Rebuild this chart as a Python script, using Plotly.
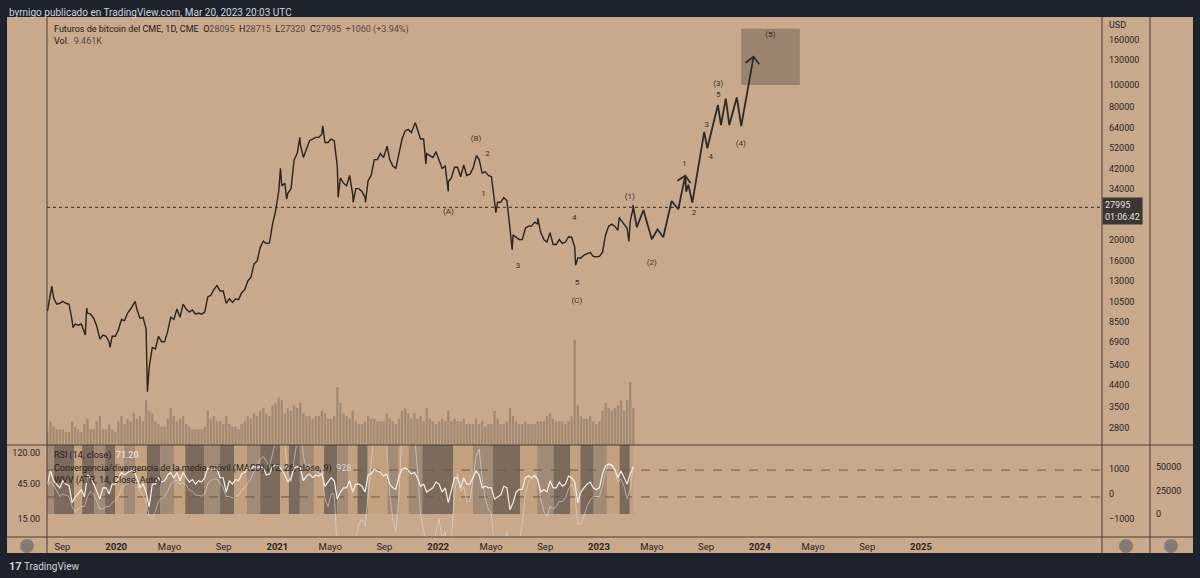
import pandas as pd
import plotly.graph_objects as go

# ---- weekly closes (Mondays) ----
week_start = "2019-07-29"
close_2019 = [9500, 11800, 10900, 10200, 10300, 10500, 10300, 10200, 8600, 8300,
              8200, 8300, 7500, 9300, 9200, 8800, 8100, 7100, 7400, 7300,
              6900, 7300, 7300]
close_2020 = [7800, 8700, 8600, 9300, 9700, 10200, 9700, 8800, 8900, 7900,
              5300, 6500, 6400, 7300, 6900, 6900, 7700, 8900, 8700, 9700,
              8900, 10200, 9700, 9400, 9600, 9200, 9300, 9200, 9400, 11000,
              11200, 11900, 12300, 11700, 11700, 10300, 10800, 10400, 10800, 10700,
              11500, 11900, 13000, 13500, 15500, 16000, 18400, 19700, 19200, 19300,
              23500, 27000]
close_2021 = [33000, 35000, 36000, 32500, 34000, 46000, 49000, 54000, 47000, 51000,
              56000, 57000, 58000, 58000, 60000, 55000, 55000, 57000, 56000, 43000,
              38000, 36000, 35000, 39000, 32000, 34000, 34000, 33000, 31000, 37000,
              39000, 46000, 46000, 49000, 47000, 52000, 46000, 43000, 42000, 49000,
              57000, 62000, 63000, 61000, 66000, 63000, 57000, 57000, 49000, 48000,
              47000, 50000]
close_2022 = [46000, 42000, 43000, 36500, 38000, 42500, 42500, 38500, 43500, 39000,
              39500, 42000, 47500, 46000, 40000, 40500, 39000, 38500, 30500, 29500,
              29500, 31000, 30000, 22500, 21000, 20500, 20000, 20000, 22500, 23000,
              23000, 24000, 23500, 21500, 20000, 19500, 21500, 19000, 19000, 20000,
              19200, 19500, 20600, 20500, 18500, 16500, 16500, 17000, 17200, 17500,
              16800, 16700]
close_2023 = [16800, 17500, 21000, 23000, 23500, 23000, 22000, 24500, 23500, 22500,
              24200, 28000]

# intraweek extremes
spike_dates = ["2019-08-08", "2019-09-25", "2019-10-23", "2019-10-26", "2019-12-18",
               "2020-02-13", "2020-03-12", "2020-08-17", "2021-01-08", "2021-01-22",
               "2021-02-21", "2021-04-14", "2021-05-19", "2021-06-22", "2021-07-20",
               "2021-09-07", "2021-11-10", "2021-12-04", "2022-01-24", "2022-03-29",
               "2022-05-12", "2022-06-18", "2022-08-15", "2022-11-09", "2023-02-16",
               "2023-03-10"]
spike_prices = [12300, 8000, 7400, 9800, 6500,
                10500, 4100, 12400, 42000, 30500,
                58000, 65500, 31000, 29500, 29500,
                53000, 67500, 44000, 33000, 48000,
                26500, 18000, 25000, 15300, 25200,
                19600]

# volume (K contracts), one value per week
vol_2019 = [5, 9, 7, 6, 6, 6, 5, 5, 9, 7, 6, 5, 8, 10, 6, 6, 9, 11, 6, 6, 8, 6, 5]
vol_2020 = [9, 11, 8, 10, 9, 12, 10, 11, 9, 17, 13, 12, 9, 8, 7, 7, 10, 14, 11, 9,
            10, 11, 8, 7, 6, 6, 6, 6, 7, 13, 10, 11, 9, 9, 8, 11, 8, 7, 7, 6,
            8, 9, 11, 10, 12, 11, 13, 14, 12, 11, 15, 16]
vol_2021 = [18, 17, 12, 14, 13, 15, 14, 16, 12, 11, 11, 10, 11, 11, 13, 12, 10, 10, 11, 22,
            16, 12, 11, 10, 13, 9, 8, 8, 9, 11, 10, 10, 9, 9, 9, 12, 10, 9, 8, 10,
            13, 14, 12, 10, 12, 10, 11, 9, 14, 10, 9, 8]
vol_2022 = [9, 10, 9, 13, 9, 10, 9, 9, 10, 8, 8, 8, 10, 8, 9, 7, 8, 8, 13, 10,
            8, 8, 9, 14, 11, 9, 8, 8, 9, 8, 8, 8, 9, 9, 9, 11, 12, 10, 9, 9,
            9, 8, 9, 11, 40, 15, 11, 10, 10, 11, 9, 8]
vol_2023 = [9, 13, 16, 14, 13, 14, 15, 17, 13, 17, 24, 14]

# RSI (14) weekly readings
rsi_2019 = [45, 68, 50, 45, 40, 50, 45, 43, 25, 30, 33, 38, 30, 60, 55, 45, 35, 28, 40, 40, 33, 45, 45]
rsi_2020 = [55, 65, 60, 65, 68, 70, 55, 40, 45, 35, 22, 45, 45, 55, 48, 50, 60, 65, 55, 65,
            50, 65, 55, 48, 52, 45, 50, 48, 55, 75, 70, 72, 72, 55, 55, 35, 50, 45, 52, 50,
            62, 65, 75, 72, 80, 75, 78, 75, 60, 62, 78, 82]
rsi_2021 = [82, 70, 60, 48, 55, 75, 78, 75, 50, 58, 62, 55, 60, 58, 62, 42, 48, 55, 50, 28,
            35, 40, 40, 50, 35, 45, 45, 42, 35, 60, 62, 72, 68, 65, 58, 62, 45, 40, 38, 58,
            72, 75, 70, 62, 65, 55, 42, 45, 35, 38, 40, 48]
rsi_2022 = [45, 35, 40, 25, 38, 55, 55, 40, 55, 45, 45, 55, 68, 60, 40, 42, 40, 40, 28, 30,
            32, 42, 40, 20, 25, 35, 38, 38, 55, 58, 55, 58, 52, 35, 38, 35, 50, 40, 40, 48,
            42, 45, 58, 55, 48, 25, 35, 40, 45, 48, 40, 38]
rsi_2023 = [40, 62, 80, 85, 82, 72, 55, 68, 55, 45, 62, 78]

# MACD line weekly readings
macd_2019 = [300, 500, 350, 100, -100, 0, -50, -100, -500, -700, -600, -500, -500, -100, 100,
             0, -300, -600, -600, -500, -500, -350, -250]
macd_2020 = [-100, 200, 350, 400, 500, 600, 450, 100, -50, -300, -900, -1000, -700, -300, -150,
             -100, 100, 400, 500, 550, 400, 450, 350, 150, 100, -50, -50, -80, 0, 400,
             550, 600, 600, 400, 250, -100, -100, -150, -100, -50, 150, 250, 450, 600, 900,
             1100, 1400, 1500, 1300, 1100, 1600, 2200]
macd_2021 = [3000, 3200, 2000, 800, 500, 1500, 2500, 3000, 1500, 1000, 1200, 900, 1000, 800, 1000,
             -200, -500, 0, 0, -3000, -4500, -4000, -3500, -2000, -2200, -1800, -1200, -1000, -1300, 0,
             1000, 2500, 2800, 2800, 2200, 2000, 0, -1000, -1500, 0, 2500, 3500, 3200, 2500, 2400,
             1000, -800, -1500, -2500, -2800, -2500, -1500]
macd_2022 = [-1000, -1800, -1500, -2600, -1800, 0, 800, 100, 300, -300, -300, 500, 1500, 1800, 600,
             -200, -600, -800, -2200, -2800, -2500, -2000, -1500, -2800, -3200, -2500, -1800, -1200, 0, 500,
             600, 800, 600, -200, -700, -900, -500, -600, -500, -300, -300, -150, 200, 400, 100,
             -1200, -1200, -900, -500, -250, -100, -100]
macd_2023 = [-100, 300, 900, 1200, 1100, 900, 500, 600, 300, -200, 200, 1100]

# WVV shaded columns: segment edges and shade (0 light, 1 medium, 2 dark)
wvv_edges = ["2019-07-28", "2019-08-13", "2019-08-31", "2019-09-28", "2019-10-16", "2019-11-12",
             "2019-12-07", "2019-12-30", "2020-01-19", "2020-02-13", "2020-03-11", "2020-04-10",
             "2020-05-12", "2020-06-06", "2020-07-19", "2020-08-24", "2020-09-25", "2020-10-24",
             "2020-11-23", "2021-01-07", "2021-01-27", "2021-02-21", "2021-03-25", "2021-04-17",
             "2021-05-17", "2021-06-11", "2021-07-02", "2021-07-25", "2021-09-08", "2021-10-03",
             "2021-10-26", "2021-11-26", "2022-02-04", "2022-03-21", "2022-05-05", "2022-07-06",
             "2022-08-14", "2022-09-20", "2022-10-28", "2022-11-20", "2022-12-20", "2023-01-19",
             "2023-02-17", "2023-03-12", "2023-03-21"]
wvv_shade = [1, 2, 2, 0, 2, 1, 2, 0, 1, 0, 2, 1, 0, 2, 1, 2, 0, 1, 2, 0, 2, 1,
             0, 2, 1, 0, 2, 0, 1, 0, 1, 2, 0, 1, 2, 0, 1, 2, 0, 2, 1, 0, 2, 0]
wvv_level = 90000

# projected wave path
wave_dates = ["2023-03-19", "2023-03-28", "2023-04-12", "2023-05-01", "2023-05-14", "2023-05-27",
              "2023-06-15", "2023-06-30", "2023-07-16", "2023-07-18", "2023-07-23", "2023-08-01",
              "2023-08-28", "2023-09-04", "2023-09-28", "2023-10-05", "2023-10-16", "2023-10-24",
              "2023-11-10", "2023-11-20", "2023-12-18"]
wave_prices = [28670, 22730, 27220, 20060, 22260, 20480, 29890, 27420, 38930, 32940, 35430, 29380,
               61370, 51780, 81280, 65990, 86810, 65990, 88080, 65310, 134470]
arrow1_dates = ["2023-06-28", "2023-07-16", "2023-07-28"]
arrow1_prices = [36940, 38930, 35950]
arrow2_dates = ["2023-11-30", "2023-12-18", "2023-12-31"]
arrow2_prices = [126320, 134470, 124220]
target_dates = ["2023-11-20", "2024-04-01"]
target_prices = [100000, 180000]

wave_labels = ["(B)", "2", "1", "(A)", "4", "3", "5", "(C)", "(1)", "(2)", "1", "2",
               "3", "4", "(3)", "5", "(4)", "(5)"]
label_dates = ["2022-03-28", "2022-04-23", "2022-04-14", "2022-01-24", "2022-11-06", "2022-07-01",
               "2022-11-12", "2022-11-12", "2023-03-12", "2023-05-01", "2023-07-14", "2023-08-05",
               "2023-09-03", "2023-09-12", "2023-09-29", "2023-09-29", "2023-11-19", "2024-01-25"]
label_prices = [56870, 48790, 32050, 26750, 24960, 15230, 12690, 10580, 31260, 15720, 43950, 26300,
                66200, 47430, 100830, 90210, 53980, 168000]

last_price = 27995
price_ticks = [2800, 3500, 4400, 5400, 6900, 8500, 10500, 13000, 16000, 20000,
               34000, 42000, 52000, 64000, 80000, 100000, 130000, 160000]
time_ticks = ["2019-09-01", "2020-01-01", "2020-05-01", "2020-09-01", "2021-01-01", "2021-05-01",
              "2021-09-01", "2022-01-01", "2022-05-01", "2022-09-01", "2023-01-01", "2023-05-01",
              "2023-09-01", "2024-01-01", "2024-05-01", "2024-09-01", "2025-01-01"]
time_labels = ["Sep", "<b>2020</b>", "Mayo", "Sep", "<b>2021</b>", "Mayo", "Sep", "<b>2022</b>",
               "Mayo", "Sep", "<b>2023</b>", "Mayo", "Sep", "<b>2024</b>", "Mayo", "Sep", "<b>2025</b>"]

# ---- assemble series ----
closes = close_2019 + close_2020 + close_2021 + close_2022 + close_2023
weeks = pd.date_range(week_start, periods=len(closes), freq="7D")
price = pd.concat([pd.Series(closes, index=weeks),
                   pd.Series(spike_prices, index=pd.to_datetime(spike_dates))]).sort_index()
volume = vol_2019 + vol_2020 + vol_2021 + vol_2022 + vol_2023
rsi = rsi_2019 + rsi_2020 + rsi_2021 + rsi_2022 + rsi_2023
macd = macd_2019 + macd_2020 + macd_2021 + macd_2022 + macd_2023

TAN = "#c8a98b"
INK = "#2b241f"
LINE = "#4a3e35"
X_RANGE = ["2019-07-28", "2026-02-16"]
PANE = 0.17692
X_DOM = 0.95648

fig = go.Figure()

# indicator pane: WVV columns on the base axis (y3) so overlays draw on top
edges = pd.to_datetime(wvv_edges)
seg_w = [(b - a) / pd.Timedelta(milliseconds=1) for a, b in zip(edges[:-1], edges[1:])]
shade_col = {0: "#c3a17f", 1: "#a18a76", 2: "#7c6a5c"}
fig.add_trace(go.Bar(x=edges[:-1], y=[wvv_level] * len(wvv_shade), base=0, width=seg_w, offset=0,
                     marker=dict(color=[shade_col[s] for s in wvv_shade], line_width=0),
                     xaxis="x", yaxis="y3", hoverinfo="skip"))
for lvl in [70, 30]:
    fig.add_trace(go.Scatter(x=X_RANGE, y=[lvl, lvl], mode="lines",
                             line=dict(color="#6a584a", width=1, dash="dash"), yaxis="y4"))
fig.add_trace(go.Scatter(x=weeks, y=macd, mode="lines",
                         line=dict(color="rgba(222,226,234,0.6)", width=0.9), yaxis="y5"))
fig.add_trace(go.Scatter(x=weeks, y=rsi, mode="lines",
                         line=dict(color="#f4f0ea", width=1.2), yaxis="y4"))

# main pane: volume on the base axis, price on the overlay
wk = 7 * 24 * 3600 * 1000
fig.add_trace(go.Bar(x=weeks, y=volume, width=wk * 0.75, offset=-wk * 0.375,
                     marker=dict(color="rgba(112,95,82,0.42)", line_width=0),
                     xaxis="x", yaxis="y", hoverinfo="skip"))
fig.add_trace(go.Scatter(x=X_RANGE, y=[last_price, last_price], mode="lines",
                         line=dict(color="#2f2925", width=1, dash="dot"), yaxis="y2"))
fig.add_trace(go.Scatter(x=price.index, y=price.values, mode="lines",
                         line=dict(color="#2a231e", width=1.4), yaxis="y2"))
fig.add_trace(go.Scatter(x=[target_dates[0], target_dates[1], target_dates[1], target_dates[0], target_dates[0]],
                         y=[target_prices[0], target_prices[0], target_prices[1], target_prices[1], target_prices[0]],
                         mode="lines", fill="toself", fillcolor="rgba(90,80,74,0.42)",
                         line=dict(width=0), yaxis="y2", hoverinfo="skip"))
for xs, ys in [(wave_dates, wave_prices), (arrow1_dates, arrow1_prices), (arrow2_dates, arrow2_prices)]:
    fig.add_trace(go.Scatter(x=xs, y=ys, mode="lines", line=dict(color="#302a26", width=1.8),
                             yaxis="y2", hoverinfo="skip"))
fig.add_trace(go.Scatter(x=label_dates, y=label_prices, mode="text", text=wave_labels,
                         textfont=dict(size=8, color="#3a322c"), yaxis="y2"))

axis_common = dict(showgrid=False, zeroline=False, showline=False, ticks="",
                   tickfont=dict(size=9, color=INK))
fig.update_layout(
    width=1200, height=578,
    margin=dict(l=47, r=50, t=17, b=41),
    paper_bgcolor="#1e222d", plot_bgcolor=TAN,
    showlegend=False, barmode="overlay",
    font=dict(family="Roboto, sans-serif", size=9, color=INK),
    xaxis=dict(axis_common, type="date", domain=[0, X_DOM], range=X_RANGE, anchor="y3",
               tickvals=time_ticks, ticktext=time_labels, ticklabelstandoff=2,
               tickfont=dict(size=9.5, color=INK)),
    yaxis=dict(domain=[PANE, 1], range=[0, 163], visible=False, anchor="x"),
    yaxis2=dict(axis_common, overlaying="y", type="log", range=[3.3715, 5.3082], side="right",
                anchor="x", tickvals=price_ticks, ticktext=[str(v) for v in price_ticks],
                ticklabelstandoff=6),
    yaxis3=dict(axis_common, domain=[0, PANE], range=[-24500, 73400], side="right", anchor="free",
                position=1.0, tickvals=[0, 25000, 50000], ticktext=["0", "25000", "50000"],
                ticklabelstandoff=5),
    yaxis4=dict(axis_common, overlaying="y3", type="log", range=[0.928, 2.189], side="left",
                anchor="x", tickvals=[15, 45, 120], ticktext=["15.00", "45.00", "120.00"],
                ticklabelstandoff=6),
    yaxis5=dict(axis_common, overlaying="y3", range=[-1720, 1960], side="right", anchor="x",
                tickvals=[-1000, 0, 1000], ticktext=["\u22121000", "0", "1000"], ticklabelstandoff=6),
)

# chart frame
shapes = [dict(type="rect", xref="paper", yref="paper", x0=-0.03626, x1=1.03898, y0=-0.03077, y1=1,
               fillcolor=TAN, line_width=0, layer="below")]
for xv in [0, X_DOM, 1.0]:
    shapes.append(dict(type="line", xref="paper", yref="paper", x0=xv, x1=xv, y0=-0.03077, y1=1,
                       line=dict(color=LINE, width=1)))
for yv in [PANE, 0]:
    shapes.append(dict(type="line", xref="paper", yref="paper", x0=-0.03626, x1=1.03898, y0=yv, y1=yv,
                       line=dict(color=LINE, width=1)))
for cx0, cx1 in [(-0.02448, -0.01179), (0.97190, 0.98459), (1.01269, 1.02539)]:
    shapes.append(dict(type="circle", xref="paper", yref="paper", x0=cx0, x1=cx1, y0=-0.03077, y1=-0.00385,
                       fillcolor="#857b74", line_width=0))
fig.update_layout(shapes=shapes)

val = "#5a4a3d"
ann = [
    dict(x=-0.03626, y=1.0096, text="bymigo publicado en TradingView.com, Mar 20, 2023 20:03 UTC",
         font=dict(size=10, color="#d1d4dc")),
    dict(x=0.0045, y=0.9769,
         text=("Futuros de bitcoin del CME, 1D, CME  "
               f"O<span style='color:{val}'>28095</span>  H<span style='color:{val}'>28715</span>  "
               f"L<span style='color:{val}'>27320</span>  C<span style='color:{val}'>27995</span>  "
               f"<span style='color:{val}'>+1060 (+3.94%)</span>"),
         font=dict(size=9, color="#1f1a16")),
    dict(x=0.0045, y=0.9538, text=f"Vol.  <span style='color:{val}'>9.461K</span>",
         font=dict(size=9, color="#1f1a16")),
    dict(x=0.0045, y=0.1558, text="RSI (14, close)  <span style='color:#f2eee8'>71.20</span>",
         font=dict(size=9, color="#2a231e")),
    dict(x=0.0045, y=0.1308,
         text="Convergencia/divergencia de la media móvil (MACD) (12, 26, close, 9)  <span style='color:#d9d4cf'>928</span>",
         font=dict(size=9, color="#2a231e")),
    dict(x=0.0045, y=0.1077, text="WVV (ATR, 14, Close, Auto)", font=dict(size=9, color="#2a231e")),
    dict(x=0.9610, y=0.9846, text="USD", font=dict(size=9, color=INK)),
    dict(x=X_DOM, y=0.626, text="27995<br>01:06:42", font=dict(size=9, color="#e4e1de"),
         bgcolor="#3b3633", borderpad=2, align="left"),
    dict(x=-0.03626, y=-0.0558, text="<b>17</b>", font=dict(size=11, color="#d1d4dc")),
    dict(x=-0.0227, y=-0.0558, text="TradingView", font=dict(size=10, color="#d1d4dc")),
]
for a in ann:
    a.update(xref="paper", yref="paper", xanchor="left", yanchor="middle", showarrow=False)
fig.update_layout(annotations=ann)

fig.write_html("out.html", config={"displayModeBar": False},
               post_script="document.body.style.margin='0';")
